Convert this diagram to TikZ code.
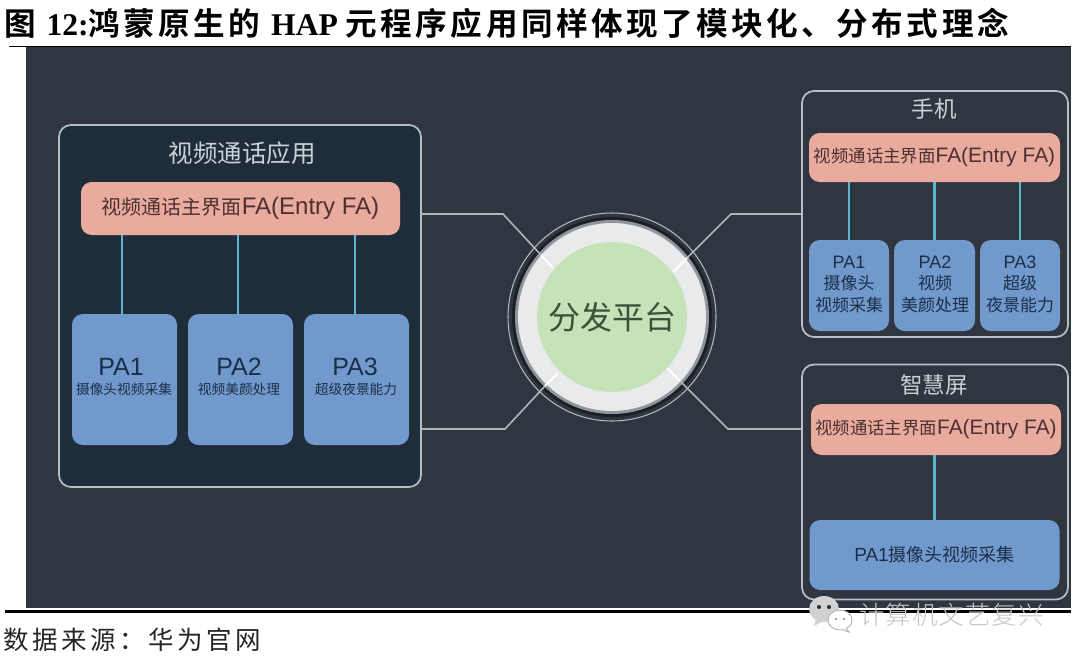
\documentclass[tikz,border=0pt]{standalone}
\usepackage{fontspec}
\setmainfont{Noto Sans CJK SC}
\newfontfamily\ttlcjk[LetterSpace=11]{Noto Sans CJK SC Bold}
\newfontfamily\ttllat{Liberation Serif Bold}
\newfontfamily\capcjk[LetterSpace=14]{Noto Sans CJK SC}
\newfontfamily\wmfont[LetterSpace=4]{Noto Sans CJK SC Light}
\newfontfamily\latf{Liberation Sans}
\newcommand\fsz[1]{\pgfmathsetmacro\fszv{#1*0.75}\pgfmathsetmacro\fszl{#1*0.9}\fontsize{\fszv}{\fszl}\selectfont}
\newcommand\falabel[1]{\fsz{#1}视频通话主界面{\latf\fsz{#1*1.2}FA(Entry FA)}}
\definecolor{panel}{HTML}{2F363F}
\definecolor{leftfill}{HTML}{1F2D3A}
\definecolor{edge}{HTML}{B4BFC6}
\definecolor{conn}{HTML}{AEB6BC}
\definecolor{fa}{HTML}{E8AB9E}
\definecolor{fatext}{HTML}{4E3030}
\definecolor{pa}{HTML}{7299CC}
\definecolor{patext}{HTML}{1A2F4A}
\definecolor{teal}{HTML}{58B9CB}
\definecolor{hubgreen}{HTML}{C6E2B8}
\definecolor{hubtext}{HTML}{3A523A}
\definecolor{ringlight}{HTML}{E8EAEC}
\definecolor{ringmid}{HTML}{8F959A}
\definecolor{ringdark}{HTML}{1A2026}
\tikzset{
 wh/.style 2 args={minimum width=#1*0.75pt,minimum height=#2*0.75pt,inner sep=0pt,outer sep=0pt},
 fs/.style={font=\fsz{#1}},
 framebox/.style={draw=edge,line width=1.3pt,rounded corners=9pt,fill=panel},
 fabox/.style={fill=fa,rounded corners=8pt,text=fatext},
 pabox/.style={fill=pa,rounded corners=8pt,text=patext,align=center},
 tealline/.style={draw=teal,line width=1.7pt},
 connline/.style={draw=conn,line width=1.2pt},
 whiteline/.style={draw=white,line width=1.5pt},
 titletext/.style={text=edge!70!white},
}
\begin{document}
\begin{tikzpicture}[x=0.75pt,y=-0.75pt]
\useasboundingbox (0,0) rectangle (1080,662);
\fill[white] (0,0) rectangle (1080,662);
% panel
\node[fill=panel,wh={1045}{563}] (bg) at (548.5,328) {};
\coordinate (rt1) at (9,46.5); \coordinate (rt2) at (1071,46.5);
\draw[black,line width=1.1pt] (rt1) -- (rt2);
\coordinate (rb1) at (5,611.5); \coordinate (rb2) at (1071,611.5);
\draw[black,line width=2.2pt] (rb1) -- (rb2);
\coordinate (rw1) at (5,609); \coordinate (rw2) at (1071,609);
\draw[white,line width=.8pt] (rw1) -- (rw2);
% title
\node[anchor=west,inner sep=0pt,text=black,fs=31.6] (title) at (4,23) {\ttlcjk 图\ \ttllat 12:\ttlcjk 鸿蒙原生的\ \ttllat HAP \ttlcjk 元程序应用同样体现了模块化、分布式理念};
% frames
\node[framebox,fill=leftfill,wh={362}{362}] (left) at (240,306) {};
\node[framebox,wh={266}{246}] (phone) at (935,214) {};
\node[framebox,wh={266}{235}] (screen) at (935,482) {};
% hub rings
\node[circle,draw=conn,line width=.8pt,fill=panel,wh={208}{208}] (hubout) at (612,317) {};
\node[circle,fill=ringdark,wh={200}{200}] (hubdark) at (612,317) {};
\node[circle,fill=ringmid,wh={194}{194}] (hubmid) at (612,317) {};
\node[circle,fill=ringlight,wh={188}{188}] (hubring) at (612,317) {};
% connectors
\coordinate (a0) at (left.east |- 0,214); \coordinate (a1) at (503,214); \coordinate (a4) at (541,255); \coordinate (a2) at (553,268);
\coordinate (b0) at (phone.west |- 0,214); \coordinate (b1) at (731,214); \coordinate (b4) at (687,258); \coordinate (b2) at (673,272);
\coordinate (c0) at (left.east |- 0,429); \coordinate (c1) at (505,429); \coordinate (c4) at (545,386); \coordinate (c2) at (558,373);
\coordinate (d0) at (screen.west |- 0,429); \coordinate (d1) at (728,429); \coordinate (d4) at (680,381); \coordinate (d2) at (667,368);
\draw[connline] (a0) -- (a1) -- (a4);
\draw[connline] (b0) -- (b1) -- (b4);
\draw[connline] (c0) -- (c1) -- (c4);
\draw[connline] (d0) -- (d1) -- (d4);
\draw[whiteline] (a4) -- (a2);
\draw[whiteline] (b4) -- (b2);
\draw[whiteline] (c4) -- (c2);
\draw[whiteline] (d4) -- (d2);
\node[circle,fill=hubgreen,text=hubtext,wh={150}{150},fs=32] (hub) at (612,317) {分发平台};
% left app
\node[titletext,fs=24.5] (ltitle) at (242,153) {视频通话应用};
\node[fabox,wh={319}{53}] (lfa) at (240.5,208.5) {\falabel{20}};
\node[pabox,wh={105}{131}] (lp1) at (124.5,379.5) {};
\node[pabox,wh={105}{131}] (lp2) at (240.5,379.5) {};
\node[pabox,wh={105}{131}] (lp3) at (356.5,379.5) {};
\node[text=patext,fs=25,font=\latf\fsz{25}] (lp1a) at (121,367) {PA1};
\node[text=patext,fs=13.7] (lp1b) at (124,389) {摄像头视频采集};
\node[text=patext,fs=25,font=\latf\fsz{25}] (lp2a) at (239,367) {PA2};
\node[text=patext,fs=13.7] (lp2b) at (239,389) {视频美颜处理};
\node[text=patext,fs=25,font=\latf\fsz{25}] (lp3a) at (355,367) {PA3};
\node[text=patext,fs=13.7] (lp3b) at (356,389) {超级夜景能力};
\draw[tealline] (lfa.south -| lp1.north) ++(-2.5,0) -- ++(0,79);
\draw[tealline] (lfa.south -| lp2.north) ++(-2.5,0) -- ++(0,79);
\draw[tealline] (lfa.south -| lp3.north) ++(-1.5,0) -- ++(0,79);
% phone
\node[titletext,fs=22.5] (ptitle) at (934,109) {手机};
\node[fabox,wh={251}{49}] (pfa) at (934.5,157.5) {\falabel{17.4}};
\node[pabox,wh={80}{91}] (pp1) at (849,285.5) {};
\node[pabox,wh={81}{91}] (pp2) at (934.5,285.5) {};
\node[pabox,wh={80}{91}] (pp3) at (1020,285.5) {};
\node[text=patext,fs=18,font=\latf\fsz{18}] (pp1a) at (849,262) {PA1};
\node[text=patext,fs=17,align=center,inner sep=0pt] (pp1t) at (849,294) {摄像头\\[1pt]视频采集};
\node[text=patext,fs=18,font=\latf\fsz{18}] (pp2a) at (935,262) {PA2};
\node[text=patext,fs=17,align=center,inner sep=0pt] (pp2t) at (935,294) {视频\\[1pt]美颜处理};
\node[text=patext,fs=18,font=\latf\fsz{18}] (pp3a) at (1020,262) {PA3};
\node[text=patext,fs=17,align=center,inner sep=0pt] (pp3t) at (1020,294) {超级\\[1pt]夜景能力};
\draw[tealline] (pfa.south -| pp1.north) -- (pp1.north);
\draw[tealline] (pfa.south -| pp2.north) -- (pp2.north);
\draw[tealline] (pfa.south -| pp3.north) -- (pp3.north);
% screen
\node[titletext,fs=22.5] (stitle) at (934,385) {智慧屏};
\node[fabox,wh={250}{51}] (sfa) at (936,429.5) {\falabel{17.4}};
\node[pabox,wh={250}{70},fs=18] (sp1) at (934.5,555) {{\latf\fsz{19}PA1}摄像头视频采集};
\draw[tealline] (sfa.south -| sp1.north) -- (sp1.north);
% footer
\node[anchor=west,inner sep=0pt,text=black!85,fs=25.5] (cap) at (3,640) {\capcjk 数据来源：华为官网};
% watermark
\node[anchor=west,inner sep=0pt,text=black!22,fs=25.5] (wm) at (859,615) {\wmfont 计算机文艺复兴};
\fill[black!18] (824,609) ellipse [x radius=15,y radius=13];
\fill[black!18] (816,619) -- (814,626) -- (823,621) -- cycle;
\fill[panel!80!black] (819,607) circle (2);
\fill[panel!80!black] (829,607) circle (2);
\draw[black!30,fill=white,line width=.7pt] (840,620) ellipse [x radius=12,y radius=10];
\draw[black!30,fill=white,line width=.7pt] (846,628) -- (849,632) -- (842,629.5);
\fill[black!45] (836,619) circle (1.2);
\fill[black!45] (844,619) circle (1.2);
\end{tikzpicture}
\end{document}
